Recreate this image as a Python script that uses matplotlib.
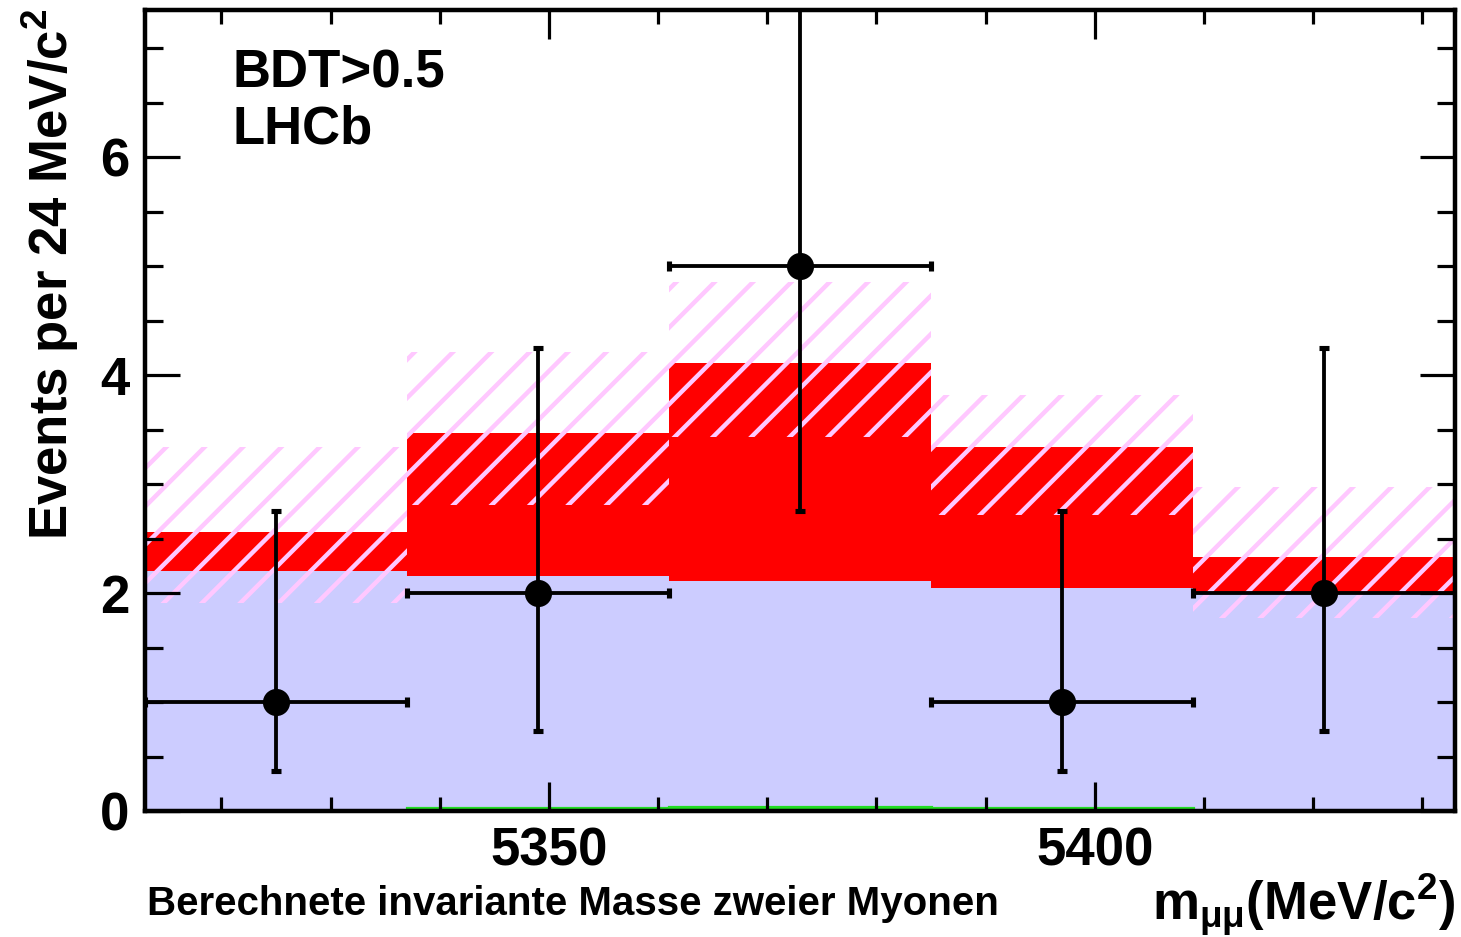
import matplotlib
matplotlib.use("Agg")
import matplotlib.pyplot as plt
from matplotlib.ticker import MultipleLocator
import numpy as np

# bins of 24 MeV/c^2
edges = [5313, 5337, 5361, 5385, 5409, 5433]
centers = [5325, 5349, 5373, 5397, 5421]

# observed events and asymmetric poisson errors
n_obs = [1, 2, 5, 1, 2]
err_lo = [0.63, 1.27, 2.25, 0.63, 1.27]
err_hi = [1.75, 2.25, 2.60, 1.75, 2.25]

# expectation components
comb_bkg = [2.20, 2.16, 2.11, 2.05, 1.99]      # lavender
total_exp = [2.56, 3.47, 4.11, 3.34, 2.33]     # top of red
peaking_bkg = [0.0, 0.025, 0.035, 0.025, 0.0]  # green

# uncertainty band (hatched)
band_lo = [1.91, 2.81, 3.43, 2.72, 1.77]
band_hi = [3.34, 4.21, 4.85, 3.82, 2.97]

DPI = 230
plt.rcParams['font.family'] = ['Liberation Sans', 'DejaVu Sans']
plt.rcParams['font.weight'] = 'bold'
plt.rcParams['mathtext.fontset'] = 'custom'
plt.rcParams['mathtext.rm'] = 'Liberation Sans'
plt.rcParams['mathtext.bf'] = 'Liberation Sans:bold'
plt.rcParams['mathtext.it'] = 'Liberation Sans:italic'
plt.rcParams['hatch.linewidth'] = 1.4

fig = plt.figure(figsize=(1461 / DPI, 937 / DPI), dpi=DPI)
ax = fig.add_axes([145 / 1461, 1 - 811 / 937, 1310 / 1461, 801 / 937])

widths = np.diff(edges)
comb = np.array(comb_bkg)
tot = np.array(total_exp)
lo = np.array(band_lo)
hi = np.array(band_hi)

ax.bar(centers, comb, width=widths, color='#ccccff', lw=0, zorder=1)
ax.bar(centers, tot - comb, bottom=comb, width=widths, color='#ff0000', lw=0, zorder=1.1)
ax.stairs(peaking_bkg, edges, color='#22dd22', lw=1.0, zorder=1.2)
ax.bar(centers, hi - lo, bottom=lo, width=widths, fill=False, hatch='//',
       edgecolor='#ffc8ff', lw=0, zorder=1.3)

xerr = [w / 2 for w in widths]
ax.errorbar(centers, n_obs, yerr=[err_lo, err_hi], xerr=xerr, fmt='o',
            color='black', ms=7.5, elinewidth=1.2, capsize=1.6, capthick=1.6,
            zorder=3, clip_on=True)

ax.set_xlim(5313, 5433)
ax.set_ylim(0, 7.35)

ax.xaxis.set_major_locator(MultipleLocator(50))
ax.xaxis.set_minor_locator(MultipleLocator(10))
ax.yaxis.set_major_locator(MultipleLocator(2))
ax.yaxis.set_minor_locator(MultipleLocator(0.5))
ax.tick_params(axis='both', which='both', direction='in', top=True, right=True, width=1.0)
ax.tick_params(axis='x', which='major', length=9, pad=5, labelsize=16.5)
ax.tick_params(axis='x', which='minor', length=4.5)
ax.tick_params(axis='y', which='major', length=11, pad=5, labelsize=16.5)
ax.tick_params(axis='y', which='minor', length=5.5)
for s in ax.spines.values():
    s.set_linewidth(1.4)
    s.set_zorder(5)

fig.text(50 / 1461, 1 - 8 / 937, r"Events per 24 MeV/c$^{\mathbf{2}}$", rotation=90,
         ha='center', va='top', fontsize=16.5, fontweight='bold')
fig.text(1455 / 1461, 1 - 920 / 937, r"m$_{\mathrm{μμ}}$(MeV/c$^{\mathbf{2}}$)",
         ha='right', va='baseline', fontsize=16.5, fontweight='bold')
fig.text(147 / 1461, 1 - 915 / 937, "Berechnete invariante Masse zweier Myonen",
         ha='left', va='baseline', fontsize=12.6, fontweight='bold')

fig.text(233 / 1461, 1 - 88 / 937, "BDT>0.5", ha='left', va='baseline',
         fontsize=16.5, fontweight='bold')
fig.text(233 / 1461, 1 - 144 / 937, "LHCb", ha='left', va='baseline',
         fontsize=16.5, fontweight='bold')

fig.savefig("out.png", dpi=DPI)
